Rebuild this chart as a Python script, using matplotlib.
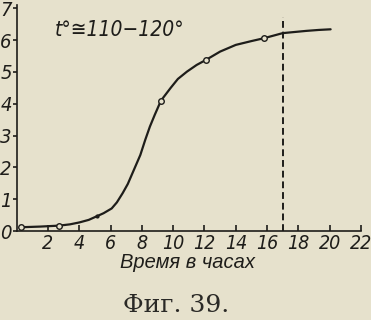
import matplotlib
matplotlib.use("Agg")
import matplotlib.pyplot as plt
from matplotlib import font_manager

# curve (hours, value)
curve_x = [0.3, 1.5, 2.71, 3.4, 4.0, 4.6, 5.1, 5.55, 6.07, 6.4, 6.77, 7.1, 7.39,
           7.9, 8.21, 8.51, 8.82, 9.22, 9.84, 10.3, 10.88, 11.5, 12.1, 13.0,
           14.0, 15.0, 15.8, 17.0, 18.5, 19.3, 20.06]
curve_y = [0.12, 0.14, 0.17, 0.21, 0.27, 0.35, 0.46, 0.56, 0.71, 0.9, 1.19, 1.48,
           1.81, 2.39, 2.86, 3.28, 3.65, 4.1, 4.5, 4.78, 5.01, 5.22, 5.38, 5.64,
           5.85, 5.97, 6.06, 6.22, 6.29, 6.32, 6.34]

# measured points (open circles) and the small dot
pts_x = [0.3, 2.71, 9.22, 12.1, 15.8]
pts_y = [0.12, 0.17, 4.1, 5.38, 6.06]
dot_x = [5.1]
dot_y = [0.46]

dash_x = 17.0
dash_top = 6.73

xticks = [2, 4, 6, 8, 10, 12, 14, 16, 18, 20, 22]
yticks = [0, 1, 2, 3, 4, 5, 6, 7]

paper = '#e6e1cc'
ink = '#1e1d1a'

# condensed oblique if the file is there, plain Liberation otherwise
cond = [f for f in font_manager.fontManager.ttflist
        if f.name == 'DejaVu Sans' and f.stretch == 'condensed' and f.style != 'normal']
if cond:
    num_font = dict(family='DejaVu Sans', stretch='condensed', style='italic')
else:
    num_font = dict(family='Liberation Sans', style='italic')

fig = plt.figure(figsize=(3.71, 3.20), dpi=100, facecolor=paper)
ax = fig.add_axes([0.045, 0.278, 0.928, 0.706])
ax.set_facecolor(paper)

ax.plot(curve_x, curve_y, color=ink, lw=1.6, solid_capstyle='round',
        solid_joinstyle='round')
ax.plot(pts_x, pts_y, 'o', ms=4, mfc=paper, mec=ink, mew=1.0)
ax.plot(dot_x, dot_y, 'o', ms=2, color=ink)
ax.plot([dash_x, dash_x], [0, dash_top], color=ink, lw=1.4, dashes=(3.5, 2))

ax.set_xlim(0, 22)
ax.set_ylim(0, 7.1)
for s in ['top', 'right']:
    ax.spines[s].set_visible(False)
for s in ['left', 'bottom']:
    ax.spines[s].set_color(ink)
    ax.spines[s].set_linewidth(1.2)

ax.set_xticks(xticks)
ax.set_xticklabels([str(t) for t in xticks], fontsize=14, color=ink, **num_font)
ax.set_yticks(yticks)
ax.set_yticklabels([str(t) for t in yticks], fontsize=14.5, color=ink, **num_font)
ax.tick_params(axis='x', direction='in', length=4, width=1.2, color=ink, pad=2)
ax.tick_params(axis='y', direction='out', length=3, width=1.2, color=ink, pad=0.5)

ax.text(6.55, 6.32, 't°≅110−120°', fontsize=15, color=ink,
        ha='center', va='center', **num_font)

fig.text(187 / 371, 1 - 263 / 320, 'Время в часах', family='Liberation Sans',
         style='italic', fontsize=14.5, color=ink, ha='center', va='center')
fig.text(176 / 371, 1 - 306 / 320, 'Фиг. 39.', family='DejaVu Serif',
         fontsize=18, color='#2a2926', ha='center', va='center')

fig.savefig('out.png', dpi=100, facecolor=paper)
